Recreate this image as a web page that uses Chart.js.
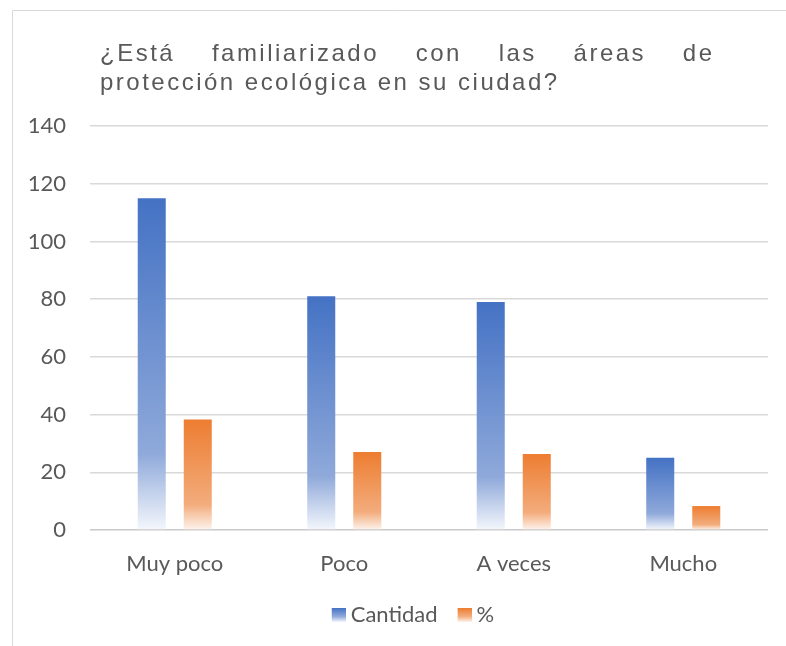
<!DOCTYPE html>
<html>
<head>
<meta charset="utf-8">
<script src="https://cdn.jsdelivr.net/npm/chart.js@4.4.1/dist/chart.umd.min.js"></script>
<style>
  html, body { margin: 0; padding: 0; background: #fff; }
  #wrap { width: 786px; height: 646px; position: relative; }
</style>
</head>
<body>
<div id="wrap"><canvas id="chart" width="786" height="646"></canvas></div>
<script>
const categories = ['Muy poco', 'Poco', 'A veces', 'Mucho'];
const cantidad = [115, 81, 79, 25];
const porcentaje = [38.3, 27, 26.3, 8.3];
const seriesNames = ['Cantidad', '%'];
const yTicks = [0, 20, 40, 60, 80, 100, 120, 140];
const titleLines = ['¿Está familiarizado con las áreas de', 'protección ecológica en su ciudad?'];

const blueStops = ['#4472C4', '#8FA9DA', '#F4F7FC'];
const orangeStops = ['#ED7D31', '#F3AC7C', '#FDF4EE'];
const textColor = '#595959';

// gradient per bar: dark top, lighter at ~77%, almost white at the base
function barGradient(stops) {
    return (context) => {
        const chart = context.chart;
        if (!chart.chartArea || context.raw === undefined) return stops[0];
        const y = chart.scales.y;
        const top = y.getPixelForValue(context.raw);
        const bottom = y.getPixelForValue(0);
        if (!isFinite(top) || bottom - top < 1) return stops[0];
        const g = chart.ctx.createLinearGradient(0, top, 0, bottom);
        g.addColorStop(0, stops[0]);
        g.addColorStop(0.77, stops[1]);
        g.addColorStop(1, stops[2]);
        return g;
    };
}

// legend swatch: 14px gradient square on the right of a 26px wide image,
// so it ends up close to its text
function legendSwatch(stops) {
    const c = document.createElement('canvas');
    c.width = 26; c.height = 14;
    const cx = c.getContext('2d');
    const g = cx.createLinearGradient(0, 0, 0, 14);
    g.addColorStop(0, stops[0]);
    g.addColorStop(0.6, stops[1]);
    g.addColorStop(1, stops[2]);
    cx.fillStyle = g;
    cx.fillRect(12, 0, 14, 14);
    return c;
}

const frameAndTitle = {
    id: 'frameAndTitle',
    afterLayout(chart) {
        // legend sits a bit right of the canvas centre in the original
        chart.legend.left += 26;
        chart.legend.right += 26;
        chart.legend.top += 2;
        chart.legend.bottom += 2;
    },
    beforeDraw(chart) {
        const ctx = chart.ctx;
        ctx.save();
        ctx.strokeStyle = '#D9D9D9';
        ctx.lineWidth = 1;
        ctx.beginPath();
        ctx.moveTo(12.5, 646);
        ctx.lineTo(12.5, 10.5);
        ctx.lineTo(786, 10.5);
        ctx.stroke();
        ctx.restore();
    },
    afterDraw(chart) {
        const ctx = chart.ctx;
        ctx.save();
        ctx.font = '24px "Liberation Sans", Arial, sans-serif';
        ctx.fillStyle = textColor;
        ctx.textBaseline = 'alphabetic';
        // letter spacing so the second line spans 100..557 like the original
        const plain = ctx.measureText(titleLines[1]).width;
        const ls = Math.max(0, (457 - plain) / (titleLines[1].length - 1));
        ctx.letterSpacing = ls.toFixed(2) + 'px';
        // first line justified between 100 and 712
        const words = titleLines[0].split(' ');
        const widths = words.map(w => ctx.measureText(w).width - ls);
        const total = widths.reduce((a, b) => a + b, 0);
        const gap = (612 - total) / (words.length - 1);
        let x = 100;
        words.forEach((w, i) => {
            ctx.fillText(w, x, 61);
            x += widths[i] + gap;
        });
        ctx.fillText(titleLines[1], 100, 90);
        ctx.restore();
    }
};

new Chart(document.getElementById('chart'), {
    type: 'bar',
    data: {
        labels: categories,
        datasets: [{
            label: seriesNames[0],
            data: cantidad,
            backgroundColor: barGradient(blueStops)
        }, {
            label: seriesNames[1],
            data: porcentaje,
            backgroundColor: barGradient(orangeStops)
        }]
    },
    options: {
        responsive: false,
        animation: false,
        layout: { padding: { top: 126, left: 0, right: 18, bottom: 12 } },
        datasets: {
            bar: { categoryPercentage: 0.543, barPercentage: 0.609 }
        },
        scales: {
            x: {
                grid: { display: false },
                border: { display: false },
                ticks: { color: textColor, font: { family: 'Lato', size: 22 }, padding: 13 },
                afterFit: (s) => { s.height = 58; }
            },
            y: {
                min: 0,
                max: 140,
                afterBuildTicks: (s) => { s.ticks = yTicks.map(v => ({ value: v })); },
                grid: {
                    color: (c) => c.tick && c.tick.value === 0 ? '#C9C9C9' : '#D9D9D9',
                    lineWidth: 1.5,
                    drawTicks: false
                },
                border: { display: false },
                ticks: { color: textColor, font: { family: 'Lato', size: 22 }, padding: 24 },
                afterFit: (s) => { s.width = 90; }
            }
        },
        plugins: {
            title: { display: false },
            tooltip: { enabled: false },
            legend: {
                position: 'bottom',
                labels: {
                    color: textColor,
                    font: { family: 'Lato', size: 22 },
                    usePointStyle: true,
                    pointStyleWidth: 14,
                    padding: 14,
                    generateLabels: (chart) => chart.data.datasets.map((ds, i) => ({
                        text: ds.label,
                        pointStyle: legendSwatch(i === 0 ? blueStops : orangeStops),
                        fillStyle: i === 0 ? blueStops[0] : orangeStops[0],
                        strokeStyle: 'transparent',
                        lineWidth: 0,
                        fontColor: textColor,
                        datasetIndex: i
                    }))
                }
            }
        }
    },
    plugins: [frameAndTitle]
});
</script>
</body>
</html>
